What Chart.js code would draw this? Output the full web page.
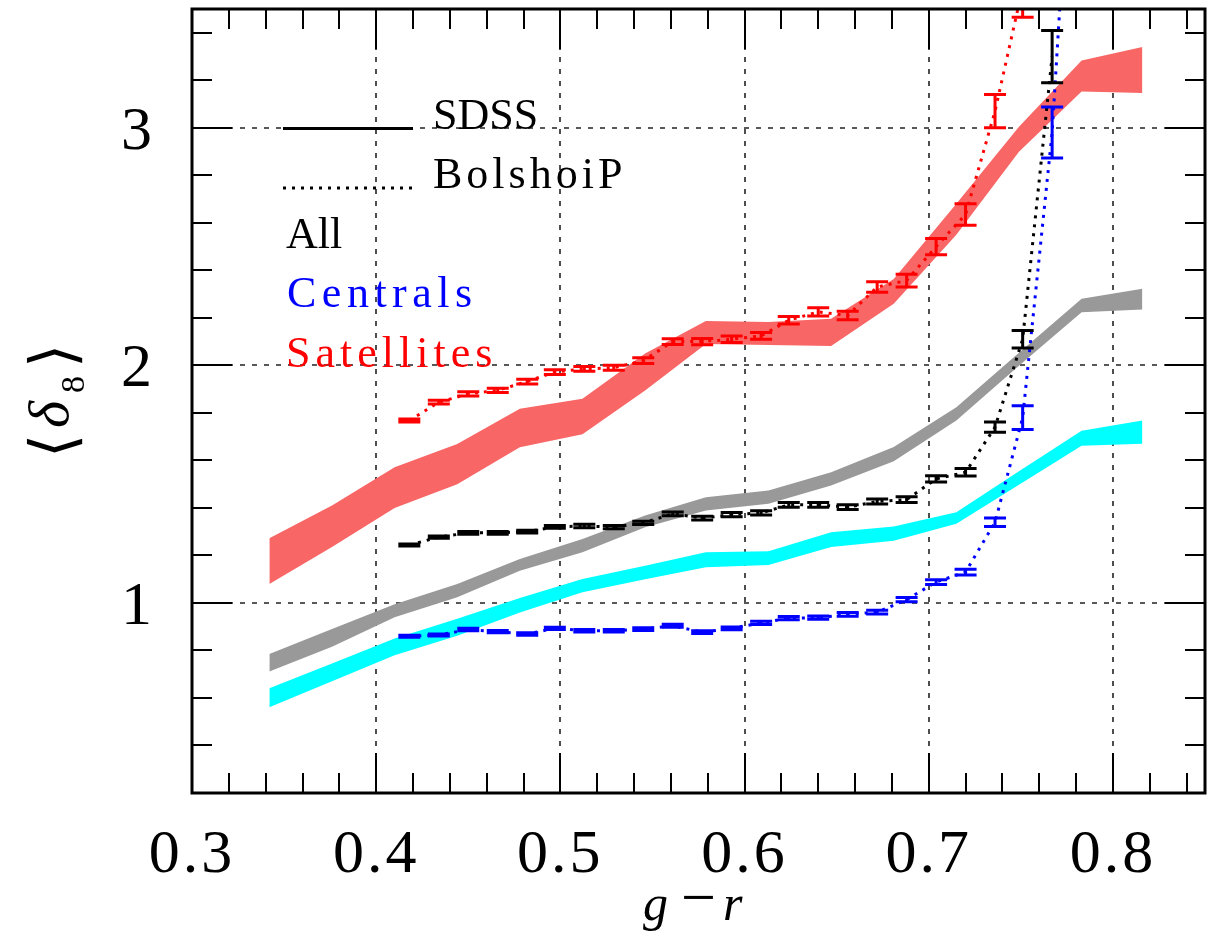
<!DOCTYPE html>
<html>
<head>
<meta charset="utf-8">
<script src="https://cdn.jsdelivr.net/npm/chart.js@4.4.1/dist/chart.umd.min.js"></script>
<style>
  html, body { margin: 0; padding: 0; background: #fff; }
  canvas { display: block; }
</style>
</head>
<body>
<canvas id="deltaChart" width="1227" height="947"></canvas>
<script>
// SDSS bins in g-r, band limits of <delta_8>
const sdssX = [0.342, 0.376, 0.410, 0.444, 0.478, 0.512, 0.546, 0.579, 0.613, 0.647, 0.681, 0.715, 0.749, 0.783, 0.816];
const allHi = [0.785, 0.89, 0.995, 1.08, 1.185, 1.269, 1.368, 1.445, 1.473, 1.55, 1.656, 1.824, 2.053, 2.28, 2.322];
const allLo = [0.711, 0.816, 0.94, 1.024, 1.136, 1.213, 1.319, 1.389, 1.417, 1.494, 1.596, 1.768, 1.998, 2.224, 2.235];
const cenHi = [0.641, 0.745, 0.85, 0.933, 1.021, 1.101, 1.157, 1.213, 1.218, 1.298, 1.322, 1.382, 1.554, 1.725, 1.768];
const cenLo = [0.561, 0.67, 0.78, 0.862, 0.96, 1.045, 1.10, 1.15, 1.16, 1.235, 1.262, 1.333, 1.497, 1.662, 1.67];
const satHi = [1.272, 1.41, 1.571, 1.669, 1.817, 1.859, 2.05, 2.187, 2.183, 2.196, 2.364, 2.68, 3.004, 3.283, 3.34];
const satLo = [1.08, 1.235, 1.40, 1.50, 1.655, 1.71, 1.894, 2.09, 2.086, 2.082, 2.259, 2.55, 2.899, 3.153, 3.146];

// BolshoiP bins, mean <delta_8> and errors
const bolX = [0.418, 0.434, 0.450, 0.466, 0.482, 0.497, 0.513, 0.529, 0.545, 0.561, 0.577, 0.593, 0.609, 0.624, 0.640, 0.656, 0.672, 0.688, 0.704, 0.720, 0.736, 0.751, 0.767, 0.783];
const bolAll = [1.244, 1.277, 1.295, 1.295, 1.30, 1.32, 1.324, 1.319, 1.337, 1.375, 1.357, 1.372, 1.379, 1.413, 1.413, 1.403, 1.427, 1.435, 1.522, 1.55, 1.74, 2.11, 3.30];
const bolAllErr = [0.004, 0.005, 0.006, 0.006, 0.006, 0.006, 0.007, 0.007, 0.007, 0.008, 0.008, 0.009, 0.009, 0.01, 0.01, 0.01, 0.011, 0.012, 0.013, 0.016, 0.022, 0.037, 0.11];
const bolCen = [0.86, 0.865, 0.888, 0.879, 0.869, 0.893, 0.883, 0.883, 0.89, 0.904, 0.877, 0.893, 0.916, 0.936, 0.938, 0.952, 0.961, 1.014, 1.088, 1.13, 1.34, 1.78, 2.98, 5.0];
const bolCenErr = [0.004, 0.004, 0.005, 0.005, 0.005, 0.005, 0.005, 0.005, 0.006, 0.006, 0.006, 0.006, 0.007, 0.007, 0.007, 0.008, 0.008, 0.009, 0.01, 0.012, 0.018, 0.05, 0.107, 0.3];
const bolSat = [1.768, 1.845, 1.88, 1.895, 1.932, 1.972, 1.985, 1.99, 2.02, 2.10, 2.10, 2.11, 2.124, 2.19, 2.225, 2.21, 2.33, 2.357, 2.50, 2.635, 3.07, 3.59];
const bolSatErr = [0.006, 0.008, 0.009, 0.009, 0.01, 0.01, 0.01, 0.011, 0.012, 0.012, 0.013, 0.014, 0.014, 0.016, 0.017, 0.018, 0.022, 0.027, 0.034, 0.045, 0.07, 0.125];

// axes
const xTicks = [0.3, 0.4, 0.5, 0.6, 0.7, 0.8];
const xTickLabels = ['0.3', '0.4', '0.5', '0.6', '0.7', '0.8'];
const yTicks = [1, 2, 3];
const yTickLabels = ['1', '2', '3'];

const pts = (xs, ys) => ys.map((y, i) => ({ x: xs[i], y: y }));

function band(hi, lo, color) {
  return [
    { data: pts(sdssX, hi), fill: '+1', backgroundColor: color, borderColor: color, borderWidth: 0, pointRadius: 0, order: 3, clip: 0 },
    { data: pts(sdssX, lo), fill: false, borderColor: color, borderWidth: 0, pointRadius: 0, order: 3, clip: 0 }
  ];
}

function dotted(ys, color) {
  return { data: pts(bolX, ys), borderColor: color, borderWidth: 3, borderDash: [3, 6], pointRadius: 0, fill: false, order: 1, clip: 0 };
}

const errSets = [
  { ys: bolAll, err: bolAllErr, color: '#000000' },
  { ys: bolCen, err: bolCenErr, color: '#0000ff' },
  { ys: bolSat, err: bolSatErr, color: '#ff0000' }
];

const decorations = {
  id: 'decorations',
  beforeDatasetsDraw(chart) {
    const { ctx, chartArea: a, scales: { x, y } } = chart;
    ctx.save();
    ctx.strokeStyle = '#222';
    ctx.lineWidth = 1.6;
    ctx.setLineDash([5, 7]);
    ctx.beginPath();
    xTicks.slice(1).forEach(v => {
      const px = Math.round(x.getPixelForValue(v));
      ctx.moveTo(px, a.top); ctx.lineTo(px, a.bottom);
    });
    yTicks.forEach(v => {
      const py = Math.round(y.getPixelForValue(v));
      ctx.moveTo(a.left, py); ctx.lineTo(a.right, py);
    });
    ctx.stroke();
    ctx.restore();
  },
  afterDatasetsDraw(chart) {
    const { ctx, chartArea: a, scales: { x, y } } = chart;

    // error bars
    ctx.save();
    ctx.beginPath();
    ctx.rect(a.left, a.top, a.right - a.left, a.bottom - a.top);
    ctx.clip();
    ctx.lineWidth = 3;
    errSets.forEach(s => {
      ctx.strokeStyle = s.color;
      ctx.beginPath();
      s.ys.forEach((v, i) => {
        const px = x.getPixelForValue(bolX[i]);
        const t = y.getPixelForValue(v + s.err[i]);
        const b = y.getPixelForValue(v - s.err[i]);
        ctx.moveTo(px, t); ctx.lineTo(px, b);
        ctx.moveTo(px - 11, t); ctx.lineTo(px + 11, t);
        ctx.moveTo(px - 11, b); ctx.lineTo(px + 11, b);
      });
      ctx.stroke();
    });
    ctx.restore();

    // frame and ticks
    ctx.save();
    ctx.strokeStyle = '#000';
    ctx.lineWidth = 2;
    ctx.beginPath();
    for (let k = 0; k <= 27; k++) {
      const v = 0.3 + k * 0.02;
      const px = Math.round(x.getPixelForValue(v));
      const len = k % 5 === 0 ? 40 : 20;
      ctx.moveTo(px, a.bottom); ctx.lineTo(px, a.bottom - len);
      ctx.moveTo(px, a.top); ctx.lineTo(px, a.top + len);
    }
    for (let k = 1; k <= 16; k++) {
      const v = 0.2 + k * 0.2;
      const py = Math.round(y.getPixelForValue(v));
      const len = Math.abs(v - Math.round(v)) < 1e-6 ? 40 : 20;
      ctx.moveTo(a.left, py); ctx.lineTo(a.left + len, py);
      ctx.moveTo(a.right, py); ctx.lineTo(a.right - len, py);
    }
    ctx.stroke();
    ctx.lineWidth = 3;
    ctx.strokeRect(a.left, a.top, a.right - a.left, a.bottom - a.top);

    // tick labels
    ctx.fillStyle = '#000';
    ctx.font = '62px "Liberation Serif"';
    ctx.letterSpacing = '3px';
    ctx.textAlign = 'center';
    ctx.textBaseline = 'alphabetic';
    xTicks.forEach((v, i) => ctx.fillText(xTickLabels[i], x.getPixelForValue(v), a.bottom + 79));
    yTicks.forEach((v, i) => ctx.fillText(yTickLabels[i], a.left - 54, y.getPixelForValue(v) + 21));
    ctx.letterSpacing = '0px';

    // x title  g-r
    ctx.textAlign = 'left';
    ctx.font = 'italic 50px "Liberation Serif"';
    ctx.fillText('g', a.left + 451, a.bottom + 127);
    ctx.font = '62px "Liberation Serif"';
    ctx.fillText('\u2212', a.left + 489, a.bottom + 125);
    ctx.font = 'italic 50px "Liberation Serif"';
    ctx.fillText('r', a.left + 531, a.bottom + 127);

    // y title  <delta_8>
    ctx.save();
    ctx.translate(68, 402);
    ctx.rotate(-Math.PI / 2);
    ctx.font = '62px "DejaVu Serif"';
    ctx.fillText('\u27E8', -56, 6);
    ctx.font = 'italic 58px "Liberation Serif"';
    ctx.fillText('\u03B4', -26, 0);
    ctx.font = '34px "Liberation Serif"';
    ctx.fillText('8', 9, 16);
    ctx.font = '62px "DejaVu Serif"';
    ctx.fillText('\u27E9', 34, 6);
    ctx.restore();

    // legend
    ctx.font = '44px "Liberation Serif"';
    ctx.fillStyle = '#000';
    ctx.letterSpacing = '0px';
    ctx.fillText('SDSS', 433, 129);
    ctx.letterSpacing = '4px';
    ctx.fillText('BolshoiP', 433, 188);
    ctx.letterSpacing = '0px';
    ctx.fillText('All', 286, 248);
    ctx.fillStyle = '#0000ff';
    ctx.letterSpacing = '5.5px';
    ctx.fillText('Centrals', 287, 307);
    ctx.fillStyle = '#ff0000';
    ctx.letterSpacing = '5px';
    ctx.fillText('Satellites', 286, 367);
    ctx.letterSpacing = '0px';
    ctx.strokeStyle = '#000';
    ctx.lineWidth = 3;
    ctx.beginPath();
    ctx.moveTo(283, 128.5); ctx.lineTo(413, 128.5);
    ctx.stroke();
    ctx.setLineDash([3, 6]);
    ctx.beginPath();
    ctx.moveTo(283, 188); ctx.lineTo(416, 188);
    ctx.stroke();
    ctx.restore();
  }
};

new Chart(document.getElementById('deltaChart').getContext('2d'), {
  type: 'line',
  data: {
    datasets: [
      ...band(satHi, satLo, '#f96666'),
      ...band(allHi, allLo, '#999999'),
      ...band(cenHi, cenLo, '#00ffff'),
      dotted(bolAll, '#000000'),
      dotted(bolCen, '#0000ff'),
      dotted(bolSat, '#ff0000')
    ]
  },
  options: {
    responsive: false,
    animation: false,
    events: [],
    layout: { autoPadding: false, padding: { left: 192, right: 22, top: 9, bottom: 154 } },
    elements: { line: { tension: 0 } },
    plugins: { legend: { display: false }, tooltip: { enabled: false } },
    scales: {
      x: { type: 'linear', min: 0.3, max: 0.85, display: false },
      y: { type: 'linear', min: 0.2, max: 3.5, display: false }
    }
  },
  plugins: [decorations]
});
</script>
</body>
</html>
